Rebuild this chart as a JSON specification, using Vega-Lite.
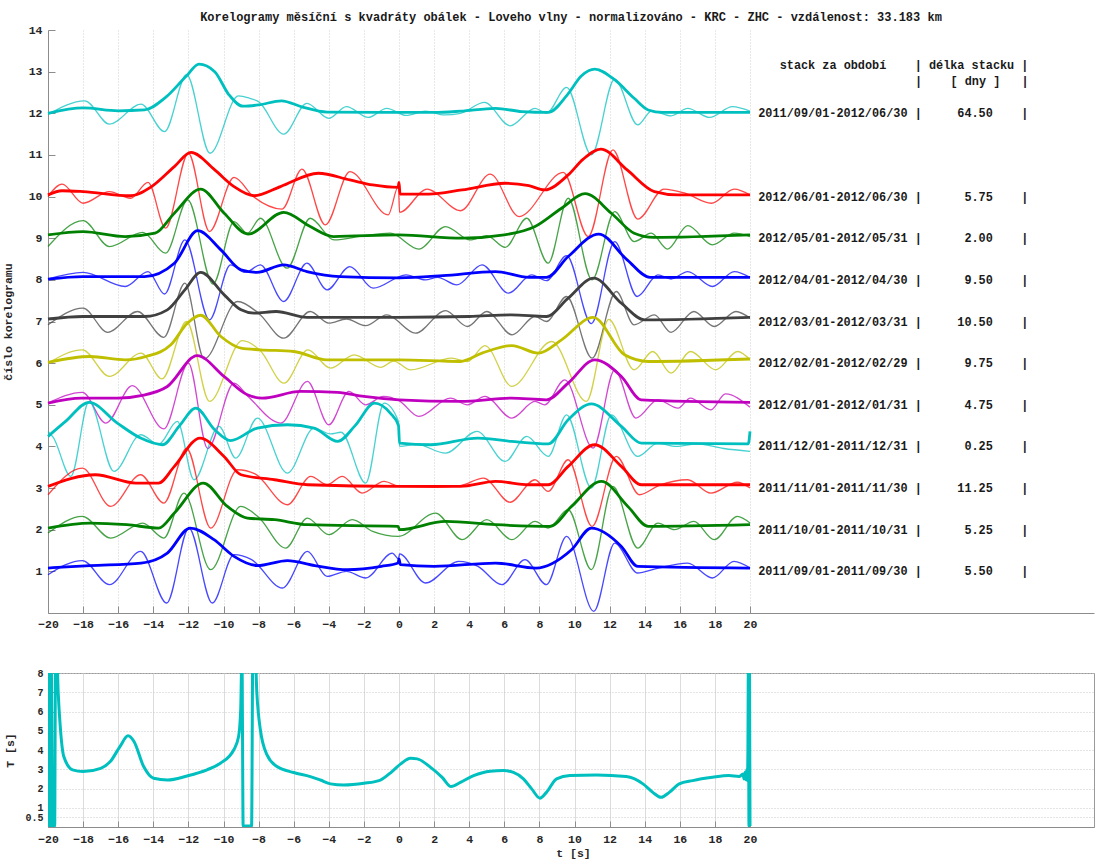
{
  "$schema": "https://vega.github.io/schema/vega-lite/v6.json",
  "background": "white",
  "padding": {"left": 2, "top": 11, "right": 0, "bottom": 0},
  "bounds": "flush",
  "spacing": 60,
  "config": {
    "font": "Liberation Mono",
    "view": {"stroke": null},
    "axis": {
      "labelFont": "Liberation Mono",
      "labelFontWeight": "bold",
      "labelFontSize": 11.5,
      "labelColor": "#262626",
      "titleFont": "Liberation Mono",
      "titleFontWeight": "bold",
      "titleFontSize": 11.5,
      "titleColor": "#262626",
      "domainColor": "#8c8c8c",
      "tickColor": "#8c8c8c",
      "labelFlush": false,
      "labelOverlap": false
    }
  },
  "datasets": {
    "cc": [
      {"s":12,"k":"w","t":-20,"v":11.97},{"s":12,"k":"w","t":-17.9,"v":12.3},{"s":12,"k":"w","t":-16.5,"v":11.74},{"s":12,"k":"w","t":-14.7,"v":12.22},{"s":12,"k":"w","t":-13.36,"v":11.56},{"s":12,"k":"w","t":-12.1,"v":12.93},{"s":12,"k":"w","t":-10.77,"v":11.04},{"s":12,"k":"w","t":-9.15,"v":12.42},{"s":12,"k":"w","t":-8.5,"v":12.36},{"s":12,"k":"w","t":-8.0,"v":12.28},{"s":12,"k":"w","t":-6.57,"v":11.5},{"s":12,"k":"w","t":-5.25,"v":12.24},{"s":12,"k":"w","t":-4.0,"v":11.88},{"s":12,"k":"w","t":-3.0,"v":12.16},{"s":12,"k":"w","t":-1.75,"v":11.9},{"s":12,"k":"w","t":-0.7,"v":12.12},{"s":12,"k":"w","t":0.4,"v":11.95},{"s":12,"k":"w","t":1.5,"v":12.05},{"s":12,"k":"w","t":2.6,"v":11.96},{"s":12,"k":"w","t":3.5,"v":12.0},{"s":12,"k":"w","t":4.88,"v":12.26},{"s":12,"k":"w","t":6.33,"v":11.7},{"s":12,"k":"w","t":7.75,"v":12.12},{"s":12,"k":"w","t":8.4,"v":12.0},{"s":12,"k":"w","t":9.55,"v":12.62},{"s":12,"k":"w","t":10.96,"v":11.0},{"s":12,"k":"w","t":12.29,"v":12.82},{"s":12,"k":"w","t":13.6,"v":11.72},{"s":12,"k":"w","t":14.4,"v":12.06},{"s":12,"k":"w","t":15.5,"v":11.94},{"s":12,"k":"w","t":16.45,"v":12.12},{"s":12,"k":"w","t":17.7,"v":11.9},{"s":12,"k":"w","t":19.0,"v":12.16},{"s":12,"k":"w","t":20,"v":12.05},
      {"s":12,"k":"e","t":-20,"v":12.0},{"s":12,"k":"e","t":-18,"v":12.13},{"s":12,"k":"e","t":-16,"v":12.06},{"s":12,"k":"e","t":-14.5,"v":12.08},{"s":12,"k":"e","t":-13.3,"v":12.38},{"s":12,"k":"e","t":-12.1,"v":12.9},{"s":12,"k":"e","t":-11.4,"v":13.18},{"s":12,"k":"e","t":-10.5,"v":13.0},{"s":12,"k":"e","t":-9.7,"v":12.45},{"s":12,"k":"e","t":-8.9,"v":12.17},{"s":12,"k":"e","t":-8.0,"v":12.2},{"s":12,"k":"e","t":-6.7,"v":12.3},{"s":12,"k":"e","t":-5.5,"v":12.15},{"s":12,"k":"e","t":-4.1,"v":12.03},{"s":12,"k":"e","t":-1,"v":12.02},{"s":12,"k":"e","t":2,"v":12.02},{"s":12,"k":"e","t":3.5,"v":12.05},{"s":12,"k":"e","t":5.5,"v":12.12},{"s":12,"k":"e","t":7.0,"v":12.04},{"s":12,"k":"e","t":8.5,"v":12.02},{"s":12,"k":"e","t":9.6,"v":12.45},{"s":12,"k":"e","t":10.4,"v":12.9},{"s":12,"k":"e","t":11.15,"v":13.06},{"s":12,"k":"e","t":12.3,"v":12.8},{"s":12,"k":"e","t":13.4,"v":12.36},{"s":12,"k":"e","t":14.2,"v":12.08},{"s":12,"k":"e","t":15,"v":12.02},{"s":12,"k":"e","t":20,"v":12.02},

      {"s":10,"k":"w","t":-20,"v":10.0},{"s":10,"k":"w","t":-19.2,"v":10.3},{"s":10,"k":"w","t":-18.0,"v":9.84},{"s":10,"k":"w","t":-16.5,"v":10.12},{"s":10,"k":"w","t":-15.3,"v":9.96},{"s":10,"k":"w","t":-14.3,"v":10.34},{"s":10,"k":"w","t":-13.3,"v":9.24},{"s":10,"k":"w","t":-12.0,"v":11.04},{"s":10,"k":"w","t":-10.8,"v":9.16},{"s":10,"k":"w","t":-9.4,"v":10.46},{"s":10,"k":"w","t":-8.3,"v":10.0},{"s":10,"k":"w","t":-6.66,"v":9.7},{"s":10,"k":"w","t":-5.53,"v":10.66},{"s":10,"k":"w","t":-4.2,"v":9.32},{"s":10,"k":"w","t":-2.8,"v":10.6},{"s":10,"k":"w","t":-0.62,"v":9.56},{"s":10,"k":"w","t":-0.03,"v":10.25},{"s":10,"k":"w","t":0.03,"v":9.62},{"s":10,"k":"w","t":1.6,"v":10.18},{"s":10,"k":"w","t":3.5,"v":9.66},{"s":10,"k":"w","t":5.2,"v":10.54},{"s":10,"k":"w","t":6.84,"v":9.52},{"s":10,"k":"w","t":9.36,"v":10.58},{"s":10,"k":"w","t":10.78,"v":9.04},{"s":10,"k":"w","t":12.19,"v":11.12},{"s":10,"k":"w","t":13.6,"v":9.46},{"s":10,"k":"w","t":15.1,"v":10.18},{"s":10,"k":"w","t":16.3,"v":10.08},{"s":10,"k":"w","t":17.8,"v":9.84},{"s":10,"k":"w","t":19.1,"v":10.18},{"s":10,"k":"w","t":20,"v":10.04},
      {"s":10,"k":"e","t":-20,"v":10.04},{"s":10,"k":"e","t":-19.2,"v":10.14},{"s":10,"k":"e","t":-18,"v":10.12},{"s":10,"k":"e","t":-15.3,"v":10.02},{"s":10,"k":"e","t":-14.1,"v":10.24},{"s":10,"k":"e","t":-12.8,"v":10.72},{"s":10,"k":"e","t":-11.85,"v":11.06},{"s":10,"k":"e","t":-10.5,"v":10.64},{"s":10,"k":"e","t":-9.4,"v":10.24},{"s":10,"k":"e","t":-8.26,"v":10.02},{"s":10,"k":"e","t":-6.75,"v":10.24},{"s":10,"k":"e","t":-4.6,"v":10.56},{"s":10,"k":"e","t":-2.8,"v":10.4},{"s":10,"k":"e","t":-1.5,"v":10.28},{"s":10,"k":"e","t":-0.05,"v":10.22},{"s":10,"k":"e","t":0.0,"v":10.34},{"s":10,"k":"e","t":0.06,"v":10.06},{"s":10,"k":"e","t":1.7,"v":10.06},{"s":10,"k":"e","t":3.6,"v":10.16},{"s":10,"k":"e","t":6.05,"v":10.32},{"s":10,"k":"e","t":7.4,"v":10.26},{"s":10,"k":"e","t":8.3,"v":10.16},{"s":10,"k":"e","t":9.64,"v":10.52},{"s":10,"k":"e","t":10.5,"v":10.9},{"s":10,"k":"e","t":11.5,"v":11.14},{"s":10,"k":"e","t":13.0,"v":10.64},{"s":10,"k":"e","t":14.55,"v":10.12},{"s":10,"k":"e","t":15.9,"v":10.04},{"s":10,"k":"e","t":20,"v":10.04},

      {"s":9,"k":"w","t":-20,"v":8.8},{"s":9,"k":"w","t":-18,"v":9.42},{"s":9,"k":"w","t":-16.5,"v":8.8},{"s":9,"k":"w","t":-14.6,"v":9.14},{"s":9,"k":"w","t":-13.3,"v":8.64},{"s":9,"k":"w","t":-12.04,"v":9.92},{"s":9,"k":"w","t":-10.6,"v":7.9},{"s":9,"k":"w","t":-9.4,"v":9.4},{"s":9,"k":"w","t":-8.64,"v":9.12},{"s":9,"k":"w","t":-7.9,"v":9.48},{"s":9,"k":"w","t":-6.38,"v":8.28},{"s":9,"k":"w","t":-5.06,"v":9.48},{"s":9,"k":"w","t":-3.7,"v":8.96},{"s":9,"k":"w","t":-2.0,"v":9.06},{"s":9,"k":"w","t":-0.5,"v":9.12},{"s":9,"k":"w","t":1.13,"v":8.74},{"s":9,"k":"w","t":2.65,"v":9.28},{"s":9,"k":"w","t":4.06,"v":8.96},{"s":9,"k":"w","t":5.0,"v":9.06},{"s":9,"k":"w","t":6.05,"v":8.78},{"s":9,"k":"w","t":7.28,"v":9.48},{"s":9,"k":"w","t":8.5,"v":8.4},{"s":9,"k":"w","t":9.64,"v":9.96},{"s":9,"k":"w","t":11.0,"v":8.0},{"s":9,"k":"w","t":12.29,"v":9.64},{"s":9,"k":"w","t":13.4,"v":8.92},{"s":9,"k":"w","t":14.37,"v":9.12},{"s":9,"k":"w","t":15.3,"v":8.74},{"s":9,"k":"w","t":16.45,"v":9.3},{"s":9,"k":"w","t":17.86,"v":8.84},{"s":9,"k":"w","t":19.1,"v":9.12},{"s":9,"k":"w","t":20,"v":9.04},
      {"s":9,"k":"e","t":-20,"v":9.08},{"s":9,"k":"e","t":-18,"v":9.16},{"s":9,"k":"e","t":-15.6,"v":9.04},{"s":9,"k":"e","t":-13.9,"v":9.12},{"s":9,"k":"e","t":-12.8,"v":9.6},{"s":9,"k":"e","t":-11.3,"v":10.18},{"s":9,"k":"e","t":-9.96,"v":9.6},{"s":9,"k":"e","t":-8.6,"v":9.1},{"s":9,"k":"e","t":-6.57,"v":9.62},{"s":9,"k":"e","t":-5.06,"v":9.28},{"s":9,"k":"e","t":-3.74,"v":9.04},{"s":9,"k":"e","t":0,"v":9.08},{"s":9,"k":"e","t":3.6,"v":9.0},{"s":9,"k":"e","t":6.0,"v":9.08},{"s":9,"k":"e","t":7.75,"v":9.28},{"s":9,"k":"e","t":9.26,"v":9.72},{"s":9,"k":"e","t":10.6,"v":10.07},{"s":9,"k":"e","t":12.1,"v":9.6},{"s":9,"k":"e","t":13.4,"v":9.12},{"s":9,"k":"e","t":14.5,"v":9.02},{"s":9,"k":"e","t":20,"v":9.08},

      {"s":8,"k":"w","t":-20,"v":8.02},{"s":8,"k":"w","t":-18,"v":8.18},{"s":8,"k":"w","t":-15.6,"v":7.84},{"s":8,"k":"w","t":-14.3,"v":8.2},{"s":8,"k":"w","t":-13.36,"v":7.66},{"s":8,"k":"w","t":-12.2,"v":8.96},{"s":8,"k":"w","t":-10.8,"v":7.04},{"s":8,"k":"w","t":-9.6,"v":8.36},{"s":8,"k":"w","t":-8.75,"v":8.18},{"s":8,"k":"w","t":-7.9,"v":8.36},{"s":8,"k":"w","t":-6.57,"v":7.48},{"s":8,"k":"w","t":-5.25,"v":8.4},{"s":8,"k":"w","t":-4.1,"v":7.76},{"s":8,"k":"w","t":-2.8,"v":8.32},{"s":8,"k":"w","t":-1.47,"v":7.8},{"s":8,"k":"w","t":0.4,"v":8.12},{"s":8,"k":"w","t":1.5,"v":8.0},{"s":8,"k":"w","t":2.2,"v":8.06},{"s":8,"k":"w","t":3.3,"v":7.88},{"s":8,"k":"w","t":4.73,"v":8.36},{"s":8,"k":"w","t":6.24,"v":7.68},{"s":8,"k":"w","t":7.56,"v":8.12},{"s":8,"k":"w","t":8.4,"v":7.98},{"s":8,"k":"w","t":9.55,"v":8.58},{"s":8,"k":"w","t":10.96,"v":6.95},{"s":8,"k":"w","t":12.29,"v":8.92},{"s":8,"k":"w","t":13.57,"v":7.6},{"s":8,"k":"w","t":14.75,"v":8.12},{"s":8,"k":"w","t":15.5,"v":8.02},{"s":8,"k":"w","t":16.45,"v":8.2},{"s":8,"k":"w","t":17.86,"v":7.84},{"s":8,"k":"w","t":19.1,"v":8.2},{"s":8,"k":"w","t":20,"v":8.06},
      {"s":8,"k":"e","t":-20,"v":8.02},{"s":8,"k":"e","t":-18,"v":8.08},{"s":8,"k":"e","t":-14.5,"v":8.08},{"s":8,"k":"e","t":-12.8,"v":8.4},{"s":8,"k":"e","t":-11.47,"v":9.18},{"s":8,"k":"e","t":-10.15,"v":8.72},{"s":8,"k":"e","t":-9.0,"v":8.24},{"s":8,"k":"e","t":-8.1,"v":8.18},{"s":8,"k":"e","t":-6.57,"v":8.36},{"s":8,"k":"e","t":-5.25,"v":8.2},{"s":8,"k":"e","t":-3.36,"v":8.08},{"s":8,"k":"e","t":0,"v":8.05},{"s":8,"k":"e","t":2.5,"v":8.1},{"s":8,"k":"e","t":5.5,"v":8.2},{"s":8,"k":"e","t":7.4,"v":8.06},{"s":8,"k":"e","t":8.4,"v":8.06},{"s":8,"k":"e","t":9.64,"v":8.56},{"s":8,"k":"e","t":11.38,"v":9.1},{"s":8,"k":"e","t":13.0,"v":8.48},{"s":8,"k":"e","t":14.3,"v":8.06},{"s":8,"k":"e","t":20,"v":8.06},

      {"s":7,"k":"w","t":-20,"v":6.92},{"s":7,"k":"w","t":-18,"v":7.32},{"s":7,"k":"w","t":-16.6,"v":6.74},{"s":7,"k":"w","t":-14.9,"v":7.24},{"s":7,"k":"w","t":-13.4,"v":6.62},{"s":7,"k":"w","t":-12.2,"v":7.92},{"s":7,"k":"w","t":-11.1,"v":6.1},{"s":7,"k":"w","t":-9.2,"v":7.48},{"s":7,"k":"w","t":-8.0,"v":7.2},{"s":7,"k":"w","t":-6.57,"v":6.6},{"s":7,"k":"w","t":-5.06,"v":7.24},{"s":7,"k":"w","t":-4.0,"v":6.96},{"s":7,"k":"w","t":-3.0,"v":7.06},{"s":7,"k":"w","t":-1.9,"v":6.9},{"s":7,"k":"w","t":-0.7,"v":7.16},{"s":7,"k":"w","t":0.94,"v":6.72},{"s":7,"k":"w","t":2.65,"v":7.26},{"s":7,"k":"w","t":3.9,"v":6.88},{"s":7,"k":"w","t":5.0,"v":7.24},{"s":7,"k":"w","t":6.45,"v":6.68},{"s":7,"k":"w","t":7.75,"v":7.12},{"s":7,"k":"w","t":8.4,"v":7.0},{"s":7,"k":"w","t":9.55,"v":7.6},{"s":7,"k":"w","t":11.0,"v":6.12},{"s":7,"k":"w","t":12.38,"v":7.72},{"s":7,"k":"w","t":13.4,"v":6.92},{"s":7,"k":"w","t":14.55,"v":7.16},{"s":7,"k":"w","t":15.5,"v":6.74},{"s":7,"k":"w","t":16.8,"v":7.24},{"s":7,"k":"w","t":17.96,"v":6.88},{"s":7,"k":"w","t":19.2,"v":7.24},{"s":7,"k":"w","t":20,"v":7.08},
      {"s":7,"k":"e","t":-20,"v":7.06},{"s":7,"k":"e","t":-18,"v":7.12},{"s":7,"k":"e","t":-14.5,"v":7.12},{"s":7,"k":"e","t":-13.2,"v":7.28},{"s":7,"k":"e","t":-12.2,"v":7.76},{"s":7,"k":"e","t":-11.3,"v":8.18},{"s":7,"k":"e","t":-9.96,"v":7.64},{"s":7,"k":"e","t":-9.0,"v":7.28},{"s":7,"k":"e","t":-8.26,"v":7.2},{"s":7,"k":"e","t":-7,"v":7.24},{"s":7,"k":"e","t":-5.25,"v":7.1},{"s":7,"k":"e","t":0,"v":7.1},{"s":7,"k":"e","t":4,"v":7.12},{"s":7,"k":"e","t":6.4,"v":7.16},{"s":7,"k":"e","t":8.4,"v":7.12},{"s":7,"k":"e","t":9.64,"v":7.56},{"s":7,"k":"e","t":11.1,"v":8.04},{"s":7,"k":"e","t":12.67,"v":7.44},{"s":7,"k":"e","t":14,"v":7.04},{"s":7,"k":"e","t":20,"v":7.1},

      {"s":6,"k":"w","t":-20,"v":6.0},{"s":6,"k":"w","t":-18.04,"v":6.32},{"s":6,"k":"w","t":-16.5,"v":5.68},{"s":6,"k":"w","t":-14.7,"v":6.24},{"s":6,"k":"w","t":-13.5,"v":5.62},{"s":6,"k":"w","t":-12.1,"v":7.0},{"s":6,"k":"w","t":-10.8,"v":5.08},{"s":6,"k":"w","t":-8.93,"v":6.54},{"s":6,"k":"w","t":-7.9,"v":6.3},{"s":6,"k":"w","t":-6.55,"v":5.52},{"s":6,"k":"w","t":-5.2,"v":6.32},{"s":6,"k":"w","t":-3.9,"v":5.88},{"s":6,"k":"w","t":-2.56,"v":6.2},{"s":6,"k":"w","t":-1.05,"v":5.9},{"s":6,"k":"w","t":-0.3,"v":6.05},{"s":6,"k":"w","t":0.66,"v":5.84},{"s":6,"k":"w","t":3.0,"v":6.12},{"s":6,"k":"w","t":3.9,"v":6.04},{"s":6,"k":"w","t":4.9,"v":6.42},{"s":6,"k":"w","t":6.43,"v":5.44},{"s":6,"k":"w","t":8.7,"v":6.52},{"s":6,"k":"w","t":10.68,"v":5.08},{"s":6,"k":"w","t":11.95,"v":7.05},{"s":6,"k":"w","t":13.4,"v":5.84},{"s":6,"k":"w","t":14.46,"v":6.28},{"s":6,"k":"w","t":15.5,"v":5.76},{"s":6,"k":"w","t":16.6,"v":6.28},{"s":6,"k":"w","t":18.05,"v":5.84},{"s":6,"k":"w","t":19.3,"v":6.28},{"s":6,"k":"w","t":20,"v":6.08},
      {"s":6,"k":"e","t":-20,"v":6.02},{"s":6,"k":"e","t":-17.6,"v":6.16},{"s":6,"k":"e","t":-15.6,"v":6.08},{"s":6,"k":"e","t":-14.4,"v":6.16},{"s":6,"k":"e","t":-13,"v":6.44},{"s":6,"k":"e","t":-12.06,"v":6.96},{"s":6,"k":"e","t":-11.3,"v":7.15},{"s":6,"k":"e","t":-10.15,"v":6.64},{"s":6,"k":"e","t":-9.0,"v":6.36},{"s":6,"k":"e","t":-7.9,"v":6.32},{"s":6,"k":"e","t":-6.0,"v":6.28},{"s":6,"k":"e","t":-4.1,"v":6.08},{"s":6,"k":"e","t":0,"v":6.08},{"s":6,"k":"e","t":3.5,"v":6.04},{"s":6,"k":"e","t":4.73,"v":6.24},{"s":6,"k":"e","t":6.43,"v":6.42},{"s":6,"k":"e","t":7.94,"v":6.24},{"s":6,"k":"e","t":9.26,"v":6.56},{"s":6,"k":"e","t":11.06,"v":7.1},{"s":6,"k":"e","t":12.85,"v":6.2},{"s":6,"k":"e","t":14.2,"v":6.04},{"s":6,"k":"e","t":20,"v":6.1},

      {"s":5,"k":"w","t":-20,"v":5.04},{"s":5,"k":"w","t":-18.04,"v":5.3},{"s":5,"k":"w","t":-16.7,"v":4.56},{"s":5,"k":"w","t":-15.2,"v":5.46},{"s":5,"k":"w","t":-13.4,"v":4.42},{"s":5,"k":"w","t":-12.0,"v":6.0},{"s":5,"k":"w","t":-10.9,"v":3.95},{"s":5,"k":"w","t":-9.4,"v":5.52},{"s":5,"k":"w","t":-8.6,"v":5.2},{"s":5,"k":"w","t":-6.74,"v":4.56},{"s":5,"k":"w","t":-5.22,"v":5.56},{"s":5,"k":"w","t":-4.0,"v":4.52},{"s":5,"k":"w","t":-2.85,"v":5.32},{"s":5,"k":"w","t":-1.9,"v":5.0},{"s":5,"k":"w","t":-0.9,"v":5.2},{"s":5,"k":"w","t":0,"v":5.1},{"s":5,"k":"w","t":1.13,"v":4.72},{"s":5,"k":"w","t":2.93,"v":5.16},{"s":5,"k":"w","t":3.9,"v":5.0},{"s":5,"k":"w","t":4.9,"v":5.2},{"s":5,"k":"w","t":6.43,"v":4.68},{"s":5,"k":"w","t":7.75,"v":5.08},{"s":5,"k":"w","t":8.3,"v":5.0},{"s":5,"k":"w","t":9.45,"v":5.6},{"s":5,"k":"w","t":11.06,"v":3.96},{"s":5,"k":"w","t":12.29,"v":5.84},{"s":5,"k":"w","t":13.5,"v":4.68},{"s":5,"k":"w","t":14.75,"v":5.12},{"s":5,"k":"w","t":15.9,"v":4.92},{"s":5,"k":"w","t":16.6,"v":5.16},{"s":5,"k":"w","t":17.77,"v":4.88},{"s":5,"k":"w","t":18.6,"v":5.26},{"s":5,"k":"w","t":20,"v":4.94},
      {"s":5,"k":"e","t":-20,"v":5.04},{"s":5,"k":"e","t":-18.1,"v":5.16},{"s":5,"k":"e","t":-16,"v":5.16},{"s":5,"k":"e","t":-14.7,"v":5.22},{"s":5,"k":"e","t":-13.2,"v":5.44},{"s":5,"k":"e","t":-11.5,"v":6.18},{"s":5,"k":"e","t":-9.97,"v":5.68},{"s":5,"k":"e","t":-8.64,"v":5.24},{"s":5,"k":"e","t":-7.8,"v":5.16},{"s":5,"k":"e","t":-5.6,"v":5.32},{"s":5,"k":"e","t":-3.5,"v":5.3},{"s":5,"k":"e","t":-2,"v":5.2},{"s":5,"k":"e","t":0,"v":5.12},{"s":5,"k":"e","t":3.5,"v":5.08},{"s":5,"k":"e","t":6.4,"v":5.16},{"s":5,"k":"e","t":8.4,"v":5.12},{"s":5,"k":"e","t":9.64,"v":5.52},{"s":5,"k":"e","t":11.15,"v":6.08},{"s":5,"k":"e","t":12.67,"v":5.68},{"s":5,"k":"e","t":13.8,"v":5.12},{"s":5,"k":"e","t":20,"v":5.06},

      {"s":4,"k":"w","t":-20,"v":4.36},{"s":4,"k":"w","t":-19.7,"v":4.22},{"s":4,"k":"w","t":-18.7,"v":3.28},{"s":4,"k":"w","t":-17.66,"v":5.08},{"s":4,"k":"w","t":-16.24,"v":3.4},{"s":4,"k":"w","t":-14.72,"v":4.28},{"s":4,"k":"w","t":-13.7,"v":4.05},{"s":4,"k":"w","t":-12.63,"v":4.6},{"s":4,"k":"w","t":-11.68,"v":3.2},{"s":4,"k":"w","t":-10.26,"v":4.48},{"s":4,"k":"w","t":-9.3,"v":3.72},{"s":4,"k":"w","t":-8.07,"v":4.68},{"s":4,"k":"w","t":-6.36,"v":3.36},{"s":4,"k":"w","t":-4.84,"v":4.44},{"s":4,"k":"w","t":-3.9,"v":4.3},{"s":4,"k":"w","t":-3.3,"v":4.34},{"s":4,"k":"w","t":-1.9,"v":3.12},{"s":4,"k":"w","t":-0.85,"v":5.04},{"s":4,"k":"w","t":-0.03,"v":4.6},{"s":4,"k":"w","t":0.03,"v":4.0},{"s":4,"k":"w","t":1.0,"v":4.05},{"s":4,"k":"w","t":2.65,"v":3.84},{"s":4,"k":"w","t":4.44,"v":4.36},{"s":4,"k":"w","t":6.05,"v":3.64},{"s":4,"k":"w","t":7.28,"v":4.24},{"s":4,"k":"w","t":8.5,"v":3.76},{"s":4,"k":"w","t":9.55,"v":4.76},{"s":4,"k":"w","t":10.96,"v":3.0},{"s":4,"k":"w","t":12.1,"v":4.76},{"s":4,"k":"w","t":13.6,"v":3.76},{"s":4,"k":"w","t":14.75,"v":4.08},{"s":4,"k":"w","t":15.8,"v":4.0},{"s":4,"k":"w","t":17,"v":4.06},{"s":4,"k":"w","t":18.5,"v":3.95},{"s":4,"k":"w","t":20,"v":3.88},
      {"s":4,"k":"e","t":-20,"v":4.24},{"s":4,"k":"e","t":-19,"v":4.6},{"s":4,"k":"e","t":-17.66,"v":5.06},{"s":4,"k":"e","t":-16.05,"v":4.56},{"s":4,"k":"e","t":-14.72,"v":4.2},{"s":4,"k":"e","t":-13.48,"v":4.04},{"s":4,"k":"e","t":-12.5,"v":4.5},{"s":4,"k":"e","t":-11.58,"v":4.92},{"s":4,"k":"e","t":-10.5,"v":4.4},{"s":4,"k":"e","t":-9.6,"v":4.14},{"s":4,"k":"e","t":-8.07,"v":4.44},{"s":4,"k":"e","t":-6.36,"v":4.52},{"s":4,"k":"e","t":-4.84,"v":4.44},{"s":4,"k":"e","t":-3.5,"v":4.12},{"s":4,"k":"e","t":-2.5,"v":4.5},{"s":4,"k":"e","t":-1.4,"v":5.04},{"s":4,"k":"e","t":-0.5,"v":4.8},{"s":4,"k":"e","t":-0.03,"v":4.5},{"s":4,"k":"e","t":0.03,"v":4.08},{"s":4,"k":"e","t":1.8,"v":4.04},{"s":4,"k":"e","t":4.5,"v":4.2},{"s":4,"k":"e","t":6.4,"v":4.12},{"s":4,"k":"e","t":8.5,"v":4.06},{"s":4,"k":"e","t":9.64,"v":4.64},{"s":4,"k":"e","t":10.96,"v":5.02},{"s":4,"k":"e","t":12.67,"v":4.48},{"s":4,"k":"e","t":13.8,"v":4.08},{"s":4,"k":"e","t":19.9,"v":4.06},{"s":4,"k":"e","t":20,"v":4.36},

      {"s":3,"k":"w","t":-20,"v":2.84},{"s":3,"k":"w","t":-18.04,"v":3.48},{"s":3,"k":"w","t":-16.43,"v":2.56},{"s":3,"k":"w","t":-14.72,"v":3.32},{"s":3,"k":"w","t":-13.4,"v":2.64},{"s":3,"k":"w","t":-12.1,"v":3.95},{"s":3,"k":"w","t":-10.73,"v":2.04},{"s":3,"k":"w","t":-9.2,"v":3.44},{"s":3,"k":"w","t":-8.2,"v":3.34},{"s":3,"k":"w","t":-6.36,"v":2.6},{"s":3,"k":"w","t":-5.03,"v":3.28},{"s":3,"k":"w","t":-4.1,"v":3.08},{"s":3,"k":"w","t":-3.23,"v":3.28},{"s":3,"k":"w","t":-2.1,"v":2.88},{"s":3,"k":"w","t":-0.85,"v":3.16},{"s":3,"k":"w","t":0,"v":3.04},{"s":3,"k":"w","t":2,"v":3.02},{"s":3,"k":"w","t":3.5,"v":3.06},{"s":3,"k":"w","t":4.82,"v":3.24},{"s":3,"k":"w","t":6.33,"v":2.66},{"s":3,"k":"w","t":7.75,"v":3.2},{"s":3,"k":"w","t":8.5,"v":2.92},{"s":3,"k":"w","t":9.64,"v":3.68},{"s":3,"k":"w","t":11.0,"v":2.08},{"s":3,"k":"w","t":12.38,"v":3.76},{"s":3,"k":"w","t":13.7,"v":2.84},{"s":3,"k":"w","t":14.8,"v":3.06},{"s":3,"k":"w","t":16.45,"v":3.2},{"s":3,"k":"w","t":17.77,"v":2.88},{"s":3,"k":"w","t":19.28,"v":3.14},{"s":3,"k":"w","t":20,"v":3.0},
      {"s":3,"k":"e","t":-20,"v":3.04},{"s":3,"k":"e","t":-17.3,"v":3.32},{"s":3,"k":"e","t":-15,"v":3.12},{"s":3,"k":"e","t":-13.7,"v":3.12},{"s":3,"k":"e","t":-12.8,"v":3.52},{"s":3,"k":"e","t":-11.34,"v":4.2},{"s":3,"k":"e","t":-9.97,"v":3.76},{"s":3,"k":"e","t":-9.0,"v":3.32},{"s":3,"k":"e","t":-7.1,"v":3.2},{"s":3,"k":"e","t":-5.2,"v":3.08},{"s":3,"k":"e","t":0,"v":3.04},{"s":3,"k":"e","t":3.5,"v":3.04},{"s":3,"k":"e","t":5.5,"v":3.16},{"s":3,"k":"e","t":7.4,"v":3.08},{"s":3,"k":"e","t":8.5,"v":3.08},{"s":3,"k":"e","t":9.64,"v":3.52},{"s":3,"k":"e","t":11.15,"v":4.04},{"s":3,"k":"e","t":12.67,"v":3.52},{"s":3,"k":"e","t":13.8,"v":3.08},{"s":3,"k":"e","t":20,"v":3.08},

      {"s":2,"k":"w","t":-20,"v":1.92},{"s":2,"k":"w","t":-18.04,"v":2.32},{"s":2,"k":"w","t":-16.43,"v":1.8},{"s":2,"k":"w","t":-14.6,"v":2.16},{"s":2,"k":"w","t":-13.4,"v":1.8},{"s":2,"k":"w","t":-12.25,"v":2.88},{"s":2,"k":"w","t":-10.73,"v":1.04},{"s":2,"k":"w","t":-9.02,"v":2.56},{"s":2,"k":"w","t":-8.0,"v":2.3},{"s":2,"k":"w","t":-6.46,"v":1.56},{"s":2,"k":"w","t":-5.22,"v":2.28},{"s":2,"k":"w","t":-4.0,"v":1.88},{"s":2,"k":"w","t":-2.66,"v":2.24},{"s":2,"k":"w","t":-1.5,"v":1.96},{"s":2,"k":"w","t":-0.05,"v":1.84},{"s":2,"k":"w","t":2.08,"v":2.4},{"s":2,"k":"w","t":3.6,"v":1.76},{"s":2,"k":"w","t":5.0,"v":2.24},{"s":2,"k":"w","t":6.43,"v":1.76},{"s":2,"k":"w","t":7.75,"v":2.2},{"s":2,"k":"w","t":8.5,"v":2.04},{"s":2,"k":"w","t":9.64,"v":2.48},{"s":2,"k":"w","t":10.96,"v":1.04},{"s":2,"k":"w","t":12.19,"v":3.04},{"s":2,"k":"w","t":13.6,"v":1.56},{"s":2,"k":"w","t":14.75,"v":2.16},{"s":2,"k":"w","t":15.7,"v":2.0},{"s":2,"k":"w","t":16.8,"v":2.2},{"s":2,"k":"w","t":17.96,"v":1.76},{"s":2,"k":"w","t":19.28,"v":2.32},{"s":2,"k":"w","t":20,"v":2.16},
      {"s":2,"k":"e","t":-20,"v":2.04},{"s":2,"k":"e","t":-17.6,"v":2.16},{"s":2,"k":"e","t":-15.5,"v":2.12},{"s":2,"k":"e","t":-13.7,"v":2.04},{"s":2,"k":"e","t":-12.8,"v":2.4},{"s":2,"k":"e","t":-11.15,"v":3.12},{"s":2,"k":"e","t":-9.78,"v":2.56},{"s":2,"k":"e","t":-8.64,"v":2.28},{"s":2,"k":"e","t":-7.1,"v":2.24},{"s":2,"k":"e","t":-5.2,"v":2.12},{"s":2,"k":"e","t":-0.05,"v":2.08},{"s":2,"k":"e","t":0.03,"v":2.0},{"s":2,"k":"e","t":2.65,"v":2.2},{"s":2,"k":"e","t":5.5,"v":2.12},{"s":2,"k":"e","t":8.6,"v":2.08},{"s":2,"k":"e","t":9.83,"v":2.56},{"s":2,"k":"e","t":11.53,"v":3.16},{"s":2,"k":"e","t":13.04,"v":2.56},{"s":2,"k":"e","t":14.2,"v":2.08},{"s":2,"k":"e","t":20,"v":2.12},

      {"s":1,"k":"w","t":-20,"v":0.92},{"s":1,"k":"w","t":-18.04,"v":1.26},{"s":1,"k":"w","t":-16.5,"v":0.68},{"s":1,"k":"w","t":-14.72,"v":1.48},{"s":1,"k":"w","t":-13.24,"v":0.24},{"s":1,"k":"w","t":-11.97,"v":2.04},{"s":1,"k":"w","t":-10.64,"v":0.24},{"s":1,"k":"w","t":-9.4,"v":1.4},{"s":1,"k":"w","t":-8.4,"v":1.28},{"s":1,"k":"w","t":-6.64,"v":0.6},{"s":1,"k":"w","t":-5.22,"v":1.48},{"s":1,"k":"w","t":-4.1,"v":0.88},{"s":1,"k":"w","t":-3.0,"v":1.0},{"s":1,"k":"w","t":-1.9,"v":0.84},{"s":1,"k":"w","t":-0.38,"v":1.44},{"s":1,"k":"w","t":-0.03,"v":1.3},{"s":1,"k":"w","t":0.03,"v":1.42},{"s":1,"k":"w","t":1.5,"v":0.72},{"s":1,"k":"w","t":3.4,"v":1.24},{"s":1,"k":"w","t":4.5,"v":1.12},{"s":1,"k":"w","t":5.86,"v":0.68},{"s":1,"k":"w","t":7.18,"v":1.28},{"s":1,"k":"w","t":8.4,"v":0.68},{"s":1,"k":"w","t":9.55,"v":1.84},{"s":1,"k":"w","t":11.1,"v":0.04},{"s":1,"k":"w","t":12.29,"v":1.68},{"s":1,"k":"w","t":13.6,"v":0.96},{"s":1,"k":"w","t":14.6,"v":1.06},{"s":1,"k":"w","t":16.45,"v":1.2},{"s":1,"k":"w","t":17.86,"v":0.84},{"s":1,"k":"w","t":19.09,"v":1.24},{"s":1,"k":"w","t":20,"v":1.08},
      {"s":1,"k":"e","t":-20,"v":1.08},{"s":1,"k":"e","t":-17.6,"v":1.14},{"s":1,"k":"e","t":-14.7,"v":1.2},{"s":1,"k":"e","t":-13.2,"v":1.44},{"s":1,"k":"e","t":-11.9,"v":2.04},{"s":1,"k":"e","t":-10.54,"v":1.76},{"s":1,"k":"e","t":-9.4,"v":1.36},{"s":1,"k":"e","t":-8.07,"v":1.14},{"s":1,"k":"e","t":-6.36,"v":1.26},{"s":1,"k":"e","t":-4.8,"v":1.14},{"s":1,"k":"e","t":-2.94,"v":1.04},{"s":1,"k":"e","t":-1.0,"v":1.12},{"s":1,"k":"e","t":-0.05,"v":1.2},{"s":1,"k":"e","t":0.0,"v":1.3},{"s":1,"k":"e","t":0.08,"v":1.16},{"s":1,"k":"e","t":2,"v":1.12},{"s":1,"k":"e","t":5.5,"v":1.2},{"s":1,"k":"e","t":7.8,"v":1.08},{"s":1,"k":"e","t":9.83,"v":1.52},{"s":1,"k":"e","t":10.96,"v":2.04},{"s":1,"k":"e","t":12.67,"v":1.6},{"s":1,"k":"e","t":13.6,"v":1.12},{"s":1,"k":"e","t":20,"v":1.08}
    ],
    "lab": [
      {"v":12,"txt":"2011/09/01-2012/06/30\u00a0|\u00a0\u00a0\u00a0\u00a0\u00a064.50\u00a0\u00a0\u00a0\u00a0|"},
      {"v":10,"txt":"2012/06/01-2012/06/30\u00a0|\u00a0\u00a0\u00a0\u00a0\u00a0\u00a05.75\u00a0\u00a0\u00a0\u00a0|"},
      {"v":9,"txt":"2012/05/01-2012/05/31\u00a0|\u00a0\u00a0\u00a0\u00a0\u00a0\u00a02.00\u00a0\u00a0\u00a0\u00a0|"},
      {"v":8,"txt":"2012/04/01-2012/04/30\u00a0|\u00a0\u00a0\u00a0\u00a0\u00a0\u00a09.50\u00a0\u00a0\u00a0\u00a0|"},
      {"v":7,"txt":"2012/03/01-2012/03/31\u00a0|\u00a0\u00a0\u00a0\u00a0\u00a010.50\u00a0\u00a0\u00a0\u00a0|"},
      {"v":6,"txt":"2012/02/01-2012/02/29\u00a0|\u00a0\u00a0\u00a0\u00a0\u00a0\u00a09.75\u00a0\u00a0\u00a0\u00a0|"},
      {"v":5,"txt":"2012/01/01-2012/01/31\u00a0|\u00a0\u00a0\u00a0\u00a0\u00a0\u00a04.75\u00a0\u00a0\u00a0\u00a0|"},
      {"v":4,"txt":"2011/12/01-2011/12/31\u00a0|\u00a0\u00a0\u00a0\u00a0\u00a0\u00a00.25\u00a0\u00a0\u00a0\u00a0|"},
      {"v":3,"txt":"2011/11/01-2011/11/30\u00a0|\u00a0\u00a0\u00a0\u00a0\u00a011.25\u00a0\u00a0\u00a0\u00a0|"},
      {"v":2,"txt":"2011/10/01-2011/10/31\u00a0|\u00a0\u00a0\u00a0\u00a0\u00a0\u00a05.25\u00a0\u00a0\u00a0\u00a0|"},
      {"v":1,"txt":"2011/09/01-2011/09/30\u00a0|\u00a0\u00a0\u00a0\u00a0\u00a0\u00a05.50\u00a0\u00a0\u00a0\u00a0|"}
    ],
    "per": [
      {"t":-20,"T":0.05},{"t":-19.97,"T":9},{"t":-19.9,"T":0.05},{"t":-19.82,"T":9},{"t":-19.74,"T":0.05},{"t":-19.62,"T":0.05},{"t":-19.57,"T":9},{"t":-19.5,"T":9},{"t":-19.42,"T":7.0},{"t":-19.3,"T":5.2},{"t":-19.1,"T":3.66},{"t":-18.6,"T":2.97},{"t":-18.0,"T":2.88},{"t":-17.0,"T":3.05},{"t":-16.45,"T":3.4},{"t":-15.9,"T":4.18},{"t":-15.44,"T":4.74},{"t":-15.1,"T":4.44},{"t":-14.55,"T":3.14},{"t":-13.98,"T":2.53},{"t":-13.2,"T":2.44},{"t":-12.08,"T":2.65},{"t":-10.94,"T":2.97},{"t":-10.18,"T":3.31},{"t":-9.42,"T":4.0},{"t":-9.14,"T":4.7},{"t":-9.02,"T":6.1},{"t":-8.95,"T":9},{"t":-8.88,"T":0.05},{"t":-8.4,"T":0.05},{"t":-8.33,"T":9},{"t":-8.2,"T":9},{"t":-8.1,"T":6.96},{"t":-7.9,"T":5.05},{"t":-7.52,"T":3.75},{"t":-6.95,"T":3.14},{"t":-6.0,"T":2.83},{"t":-5.05,"T":2.62},{"t":-4.48,"T":2.44},{"t":-3.9,"T":2.24},{"t":-3.15,"T":2.18},{"t":-2.0,"T":2.27},{"t":-1.06,"T":2.44},{"t":-0.4,"T":2.88},{"t":0.1,"T":3.28},{"t":0.66,"T":3.57},{"t":1.04,"T":3.54},{"t":1.8,"T":3.1},{"t":2.46,"T":2.58},{"t":2.97,"T":2.1},{"t":3.5,"T":2.32},{"t":4.25,"T":2.67},{"t":5.2,"T":2.9},{"t":5.95,"T":2.93},{"t":6.52,"T":2.84},{"t":7.09,"T":2.5},{"t":7.56,"T":1.98},{"t":8.03,"T":1.5},{"t":8.4,"T":1.8},{"t":8.98,"T":2.5},{"t":9.74,"T":2.67},{"t":11.25,"T":2.7},{"t":12.95,"T":2.62},{"t":13.9,"T":2.24},{"t":14.46,"T":1.8},{"t":14.93,"T":1.54},{"t":15.4,"T":1.8},{"t":15.97,"T":2.24},{"t":16.73,"T":2.41},{"t":17.86,"T":2.58},{"t":18.8,"T":2.67},{"t":19.38,"T":2.62},{"t":19.6,"T":2.75},{"t":19.66,"T":2.5},{"t":19.72,"T":2.85},{"t":19.77,"T":2.45},{"t":19.82,"T":3.0},{"t":19.85,"T":2.4},{"t":19.88,"T":4.0},{"t":19.91,"T":9},{"t":19.94,"T":0.05},{"t":19.97,"T":9},{"t":20.0,"T":0.05}
    ]
  },
  "vconcat": [
    {
      "width": 1046,
      "height": 583,
      "title": {"text": "Korelogramy měsíční s kvadráty obálek - Loveho vlny - normalizováno - KRC - ZHC - vzdálenost: 33.183 km", "font": "Liberation Mono", "fontSize": 12, "fontWeight": "bold", "color": "#1a1a1a", "offset": 0, "anchor": "middle"},
      "layer": [
        {
          "data": {"name": "cc"},
          "transform": [{"filter": "datum.k === 'w'"}],
          "mark": {"type": "line", "strokeWidth": 1.3, "opacity": 0.72, "interpolate": "monotone"},
          "encoding": {
            "x": {"field": "t", "type": "quantitative", "scale": {"domain": [-20, 39.6], "nice": false, "zero": false},
              "axis": {"values": [-20,-18,-16,-14,-12,-10,-8,-6,-4,-2,0,2,4,6,8,10,12,14,16,18,20], "format": "d", "title": null, "grid": true, "gridColor": "#d0d0d0", "gridDash": [1, 2], "tickSize": -7, "labelPadding": 12}},
            "y": {"field": "v", "type": "quantitative", "scale": {"domain": [0, 14], "nice": false, "zero": false},
              "axis": {"values": [1,2,3,4,5,6,7,8,9,10,11,12,13,14], "format": "d", "title": "číslo korelogramu", "grid": false, "tickSize": -7, "labelPadding": 13, "titleX": -40, "titleY": 291.5, "titleAngle": -90, "titleBaseline": "middle", "titleAlign": "center"}},
            "color": {"field": "s", "type": "nominal", "legend": null,
              "scale": {"domain": [1,2,3,4,5,6,7,8,9,10,12], "range": ["#0000FF","#008000","#FF0000","#00BFBF","#BF00BF","#BFBF00","#404040","#0000FF","#008000","#FF0000","#00BFBF"]}}
          }
        },
        {
          "data": {"name": "cc"},
          "transform": [{"filter": "datum.k === 'e'"}],
          "mark": {"type": "line", "strokeWidth": 2.8, "interpolate": "monotone"},
          "encoding": {
            "x": {"field": "t", "type": "quantitative"},
            "y": {"field": "v", "type": "quantitative"},
            "color": {"field": "s", "type": "nominal", "legend": null}
          }
        },
        {
          "data": {"name": "lab"},
          "mark": {"type": "text", "align": "left", "baseline": "middle", "font": "Liberation Mono", "fontSize": 11.85, "fontWeight": "bold", "color": "#1a1a1a"},
          "encoding": {
            "x": {"datum": 20.47, "type": "quantitative"},
            "y": {"field": "v", "type": "quantitative"},
            "text": {"field": "txt"}
          }
        },
        {
          "data": {"values": [{}]},
          "mark": {"type": "text", "align": "left", "baseline": "middle", "font": "Liberation Mono", "fontSize": 11.85, "fontWeight": "bold", "color": "#1a1a1a",
            "text": "stack\u00a0za\u00a0období\u00a0\u00a0\u00a0\u00a0|\u00a0délka\u00a0stacku\u00a0|"},
          "encoding": {
            "x": {"datum": 21.69, "type": "quantitative"},
            "y": {"datum": 13.16, "type": "quantitative"}
          }
        },
        {
          "data": {"values": [{}]},
          "mark": {"type": "text", "align": "left", "baseline": "middle", "font": "Liberation Mono", "fontSize": 11.85, "fontWeight": "bold", "color": "#1a1a1a",
            "text": "|\u00a0\u00a0\u00a0\u00a0[\u00a0dny\u00a0]\u00a0\u00a0\u00a0|"},
          "encoding": {
            "x": {"datum": 29.4, "type": "quantitative"},
            "y": {"datum": 12.78, "type": "quantitative"}
          }
        }
      ]
    },
    {
      "width": 1046,
      "height": 154,
      "view": {"stroke": "#9a9a9a", "strokeWidth": 1},
      "data": {"name": "per"},
      "mark": {"type": "line", "color": "#00BFBF", "strokeWidth": 3, "interpolate": "monotone", "clip": true},
      "encoding": {
        "x": {"field": "t", "type": "quantitative", "scale": {"domain": [-20, 39.6], "nice": false, "zero": false},
          "axis": {"values": [-20,-18,-16,-14,-12,-10,-8,-6,-4,-2,0,2,4,6,8,10,12,14,16,18,20], "format": "d", "title": "t [s]", "grid": true, "gridColor": "#dcdcdc", "tickSize": -6, "labelPadding": 12, "titleX": 525, "titleY": 26, "titleBaseline": "middle"}},
        "y": {"field": "T", "type": "quantitative", "scale": {"domain": [0, 8], "nice": false, "zero": false},
          "axis": {"values": [0.5,1,2,3,4,5,6,7,8], "format": "~g", "title": "T [s]", "grid": true, "gridColor": "#c8c8c8", "gridDash": [1, 2], "tickSize": -6, "labelPadding": 11, "labelFontSize": 10, "titleX": -38, "titleY": 77, "titleAngle": -90, "titleBaseline": "middle", "titleAlign": "center"}}
      }
    }
  ]
}
